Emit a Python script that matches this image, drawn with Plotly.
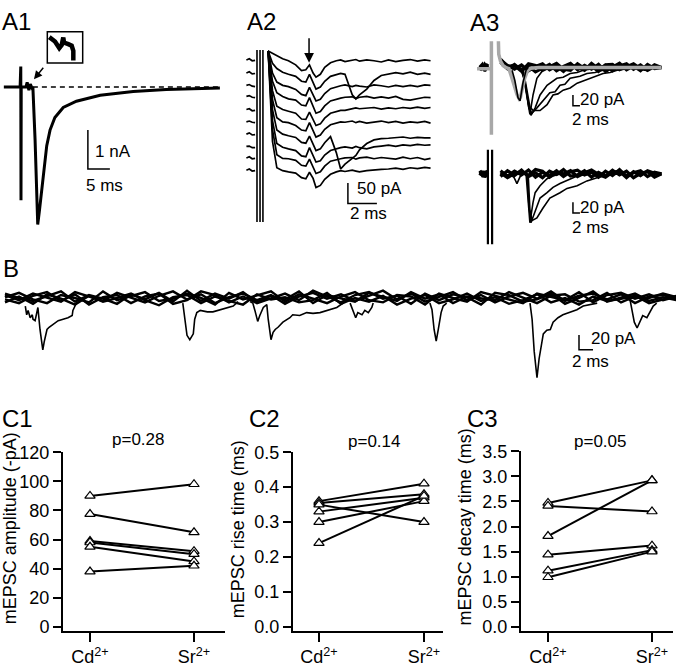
import plotly.graph_objects as go

W, H = 676, 672
FONT = "Liberation Sans, Arial, Helvetica, sans-serif"

# ---------------- Panel C data ----------------
groups = ["Cd<sup>2+</sup>", "Sr<sup>2+</sup>"]
amp_cd = [90, 77.5, 59, 58, 55, 38]
amp_sr = [98, 65, 52, 50, 45, 42]
rise_cd = [0.36, 0.355, 0.35, 0.33, 0.30, 0.24]
rise_sr = [0.41, 0.38, 0.30, 0.37, 0.36, 0.375]
decay_cd = [2.47, 2.41, 1.81, 1.44, 1.12, 0.99]
decay_sr = [2.92, 2.30, 2.92, 1.62, 1.53, 1.50]
c_titles = ["mEPSC amplitude (-pA)", "mEPSC rise time (ms)", "mEPSC decay time (ms)"]
p_values = ["p=0.28", "p=0.14", "p=0.05"]
ticks_amp = [0, 20, 40, 60, 80, 100, 120]
ticks_rise = [0.0, 0.1, 0.2, 0.3, 0.4, 0.5]
ticks_decay = [0.0, 0.5, 1.0, 1.5, 2.0, 2.5, 3.0, 3.5]

# ---------------- Panel A1 (ms, nA) ----------------
A1_t = [-3.9, -0.2, -0.05, 0.0, 0.05, 1.1, 1.4, 1.8, 2.1, 2.5, 2.7, 3.2, 3.55, 3.8, 4.15,
        5.05, 5.85, 6.6, 7.7, 9.6, 12.6, 18.0, 25.5, 33.0, 45.2]
A1_I = [0, 0, 0.53, -2.9, 0, 0, 0.12, -0.08, 0.08, -0.02, 0, -1.35, -3.0, -3.52, -3.2,
        -2.2, -1.5, -1.1, -0.78, -0.52, -0.36, -0.21, -0.11, -0.06, -0.02]
A1_base_t = [2.7, 45.2]
A1_base_I = [0, 0]
A1_inset_t = [6.43, 7.73, 8.7, 9.25, 9.61, 9.77, 10.75, 11.52, 11.89, 11.89]
A1_inset_I = [1.28, 1.17, 1.0, 1.08, 1.27, 1.14, 1.1, 1.06, 0.93, 0.68]
A1_scale_t = [15.2, 15.2, 20.2]
A1_scale_I = [-1.1, -2.1, -2.1]

# ---------------- Panel A2 (ms, pA, 10 stacked sweeps) ----------------
A2_t_pre = [-0.8, -0.6, -0.4, -0.2]
A2_t_post = [0.7, 1.0, 1.3, 1.7, 2.1, 2.6, 3.0, 3.3, 3.55, 3.8, 4.0, 4.3, 4.6, 5.0, 5.4,
             5.7, 6.0, 6.5, 6.75, 7.0, 7.5, 8.0, 8.5, 9.0, 9.5, 10.0, 10.5, 11.0, 11.5, 11.9]
A2_offsets = [0, -31, -62, -90, -121, -150, -181, -212, -238, -269]
A2_pre = [[2, 5, 0, 1], [1, 4, -1, 0], [2, 4, 0, -1], [3, 5, 1, 0], [2, 4, -1, 0],
          [1, 3, 0, -1], [2, 5, 0, 1], [3, 4, 0, 0], [1, 4, -1, 0], [2, 5, 0, 1]]
A2_sweep1 = [24, 18, 12, 5, 0, -10, -24, -22, -10, -30, -40, -33, -16, -5, 0, 2, -2, 1, 3, -1, 2, 0, -3, 2, -2, 1, 3, -1, 2, 0]
A2_sweep2 = [55, 25, 12, 3, -2, -7, -19, -21, -2, -22, -38, -33, -19, -7, -2, 0, -2, -52, -62, -52, -38, -17, -5, -1, 2, -1, 3, -2, 1, -2]
A2_sweep3 = [86, 32, 10, 2, -1, -8, -20, -23, -3, -20, -36, -32, -18, -6, -1, 1, 3, -1, 2, 0, -2, 3, 1, -2, 2, -1, 2, -1, 3, 2]
A2_sweep4 = [114, 40, 12, 3, -3, -6, -18, -20, 0, -22, -38, -34, -20, -8, -3, -1, 1, 2, -2, 1, 3, -1, 2, -1, 3, -4, -6, -3, 1, 0]
A2_sweep5 = [145, 48, 10, 2, -2, -7, -21, -22, -4, -21, -37, -33, -19, -7, -2, 0, 0, 4, 6, 4, 5, 7, 3, 6, 4, 7, 5, 8, 5, 7]
A2_sweep6 = [174, 55, 11, 1, -1, -8, -19, -21, -1, -20, -36, -31, -17, -6, -1, 1, 0, 3, -1, 2, -2, 1, 3, -1, 2, -2, 1, -1, 2, -2]
A2_sweep7 = [205, 62, 12, 2, -2, -6, -18, -20, -3, -23, -38, -34, -19, -4, -43, -83, -71, -57, -50, -36, -21, -12, -9, -8, -6, -5, -8, -6, -7, -7]
A2_sweep8 = [236, 66, 10, 1, -3, -7, -20, -22, 0, -19, -35, -32, -18, -7, -2, 0, 2, -1, 3, 0, -3, 2, 4, 6, 3, 7, 5, 8, 6, 7]
A2_sweep9 = [262, 70, 9, 0, -1, -5, -17, -19, -2, -20, -37, -33, -19, -7, -3, -1, 1, 2, -2, 1, 3, -1, 2, 0, -2, 3, -1, 2, -3, 0]
A2_sweep10 = [293, 72, 8, 1, -2, -5, -16, -19, -3, -18, -40, -35, -20, -8, -2, 1, -1, 2, 0, -2, 1, 3, 4, 5, 7, 4, 8, 6, 9, 7]
A2_sweeps = [A2_sweep1, A2_sweep2, A2_sweep3, A2_sweep4, A2_sweep5,
             A2_sweep6, A2_sweep7, A2_sweep8, A2_sweep9, A2_sweep10]
A2_artifact_t = [-0.07, 0.14, 0.34]
A2_artifact_I = [26, -393]
A2_scale_t = [6.2, 6.2, 8.2]
A2_scale_I = [-298, -348, -348]

# ---------------- Panel A3 (ms, pA) ----------------
A3_bottom_offset = -198
A3_gray_t = [-3.7, 0.2, None, 0.4, 0.4, None, 2.4, 2.5, 3.0, 3.7, 4.6, 5.4, 6.3, 7.1, 7.7,
             8.3, 8.7, 9.2, 9.9, 10.7, 11.6, 14.0, 49.0]
A3_gray_I = [-2, -2, None, 49, -125, None, 49, 25, 12, 4, 0, -2, -20, -38, -50,
             -58, -55, -40, -20, -6, -1, 0, 0]
A3_noise_t = [-2.9, -2.2, -1.5, -0.6, None, 3, 5, 7, 9, 11, 13, 15, 17, 19, 21, 23, 25,
              27, 29, 31, 33, 35, 37, 39, 41, 43, 45, 47, 49]
A3_top_noise1 = [3, -4, 6, -2, None, 14, 4, -3, 5, -6, 2, 7, -4, 3, -7, 5, 1, -5, 8, -2, 4, -6, 3, 7, -3, 5, -5, 2, 0]
A3_top_noise2 = [-5, 2, -3, 7, None, 10, -2, 6, -5, 3, -8, -1, 6, -6, 2, 8, -4, 4, -3, 6, -7, 1, 8, -4, 3, -6, 6, -2, 0]
A3_top_noise3 = [1, 6, -6, 3, None, 16, 2, 4, -7, 7, 4, -5, 2, 8, -3, -5, 7, -2, 3, -7, 5, 6, -4, 1, 7, -2, -4, 5, 0]
A3_bot_noise1 = [4, -3, 2, -5, None, 6, -4, 5, -2, 7, -6, 3, -3, 6, -5, 4, 7, -2, 3, -6, 5, -3, 8, -4, 2, 6, -5, 3, 0]
A3_bot_noise2 = [-3, 5, -6, 2, None, -5, 6, -3, 7, -5, 2, -7, 5, -1, 8, -4, -2, 6, -6, 3, -4, 7, -2, 5, -7, 1, 4, -6, 0]
A3_bot_noise3 = [6, -1, 3, 5, None, 2, -7, 1, 4, -3, 8, 5, -6, 3, 0, 6, -5, 2, 7, -1, -6, 3, 5, -7, 4, -3, 6, 1, 0]
A3_ev_a_t = [8.6, 9.7, 10.6, 11.4, 12.3, 13.4, 15.1, 17.1]
A3_ev_a_I = [0, -20, -56, -87, -51, -20, -5, 0]
A3_ev_b_t = [8.9, 10.0, 10.9, 11.7, 12.9, 14.3, 16.3, 17.7, 19.1, 20.9, 22.9, 24.9, 26.6, 31.4]
A3_ev_b_I = [0, -29, -65, -89, -75, -51, -33, -27, -20, -18, -11, -9, -5, 0]
A3_ev_c_t = [9.1, 10.3, 11.1, 12.0, 13.4, 15.1, 17.1, 18.6, 20.0, 21.4, 22.9, 25.7, 27.7, 30.0, 32.3, 37.1]
A3_ev_c_I = [0, -38, -75, -85, -75, -62, -47, -45, -33, -31, -20, -16, -11, -9, -5, 0]
A3_ev_d_t = [9.4, 10.6, 11.4, 12.3, 13.4, 14.3, 16.3, 18.0, 19.4, 20.9, 22.9, 24.9, 26.6, 28.6,
             30.6, 32.3, 34.3, 36.3, 41.4]
A3_ev_d_I = [0, -47, -73, -80, -80, -80, -69, -51, -49, -42, -38, -29, -25, -20, -16, -11, -9, -5, 0]
A3_ev_e_t = [6.3, 7.1, 8.0, 8.6, 9.4, 10.3, 10.9]
A3_ev_e_I = [-5, -24, -56, -62, -29, -5, 0]
A3_bev1_t = [10.3, 10.9, 11.4, 12.3, 12.9, 14.3, 16.3, 18.0, 20.0]
A3_bev1_I = [0, -49, -91, -53, -35, -22, -9, -4, 0]
A3_bev2_t = [10.6, 11.1, 11.7, 12.9, 14.3, 16.3, 18.0, 20.0, 22.9, 24.9, 28.6]
A3_bev2_I = [0, -58, -91, -71, -45, -35, -25, -18, -9, -4, 0]
A3_bev3_t = [10.9, 11.4, 12.0, 13.4, 15.1, 17.1, 20.0, 22.0, 24.9, 27.7, 30.6, 33.4, 37.1]
A3_bev3_I = [0, -67, -87, -82, -64, -45, -35, -27, -22, -13, -7, -2, 0]
A3_bev4_t = [5.7, 6.9, 7.7, 8.6, 9.4]
A3_bev4_I = [0, -7, -18, -5, 0]
A3_bot_artifact_t = [-0.6, 0.6]
A3_bot_artifact_I = [45, -131]
A3_scale_t = [23.7, 23.7, 25.7]
A3_scale_top_I = [-51, -71, -71]
A3_scale_bot_I = [-251, -271, -271]

# ---------------- Panel B (ms, pA) ----------------
B_noise_t = list(range(0, 97, 2))
B_noise1 = [4, -3, 6, 1, -5, 8, 2, -4, 7, 0, -6, 3, 9, -2, 5, -7, 1, 6, -3, 4, -8, 2, 7, -1, 5,
            -4, 3, 10, -2, 6, -5, 1, 8, -3, 4, -6, 2, 7, -1, 9, -4, 3, 6, -2, 5, -7, 2, 4, -1]
B_noise2 = [-6, 2, -8, 5, -1, -9, 3, -5, 0, 6, -3, -10, 1, 4, -7, 2, -4, -9, 5, -2, 1, -6, -3, 7, -8,
            0, -5, 3, -9, -1, 4, -7, -2, 6, -4, 1, -8, -3, 5, -6, 0, -9, 2, -4, -1, 3, -7, -2, 3]
B_noise3 = [1, 7, -2, -7, 4, 0, -6, 9, -3, 2, 8, -4, -1, 6, 0, -9, 7, -2, 3, 9, -5, 5, -1, -7, 2,
            8, -3, -6, 4, 2, -9, 6, 0, -5, 8, 3, -2, -7, 6, 1, -3, 8, -6, 4, 7, -1, 5, -3, 2]
B_noise4 = [-2, -7, 3, 8, -4, 5, -9, 1, 4, -7, 2, 6, -8, -3, 9, 4, -6, 2, -7, 0, 6, -3, 10, 2, -6,
            4, 8, -1, 3, -8, 6, -3, 5, 1, -9, 7, 4, -5, -2, 6, -8, 0, 9, -5, 1, 6, -4, 1, -3]
B_noise5 = [6, 0, -4, 3, 9, -5, 4, -1, -8, 5, -2, 7, -5, 10, -4, 6, -1, 8, -6, 3, -2, 9, -7, 4, 0,
            -5, 7, 1, -4, 8, -1, 5, -7, 2, -1, -3, 8, 0, -7, 3, 5, -5, -3, 7, -6, 2, 0, 6, 1]
B_ev1_t = [2.9, 3.1, 3.3, 3.6, 3.9, 4.0, 4.3, 4.6, 4.7, 5.0, 5.4, 5.6, 6.0, 6.3, 6.9, 7.6, 8.3, 9.0,
           9.6, 9.7, 10.0, 10.3]
B_ev1_I = [-11, -23, -17, -27, -23, -29, -31, -20, -13, -43, -71, -60, -43, -40, -36, -31, -29, -27,
           -24, -17, -11, -4]
B_ev2_t = [25.4, 25.7, 26.0, 26.4, 26.9, 27.1, 27.4, 27.9, 28.9, 29.7, 30.7, 31.7, 32.6, 33.3]
B_ev2_I = [-7, -29, -51, -57, -49, -29, -20, -17, -19, -19, -16, -13, -11, -5]
B_ev3_t = [35.0, 35.4, 35.7, 36.1, 36.4, 36.9, 37.4, 37.6, 38.0, 38.3, 38.6, 39.0, 39.7, 40.7, 41.1,
           42.1, 43.1, 44.0, 45.0, 46.0, 46.4, 47.4, 48.3]
B_ev3_I = [-5, -7, -17, -32, -24, -13, -9, -29, -57, -47, -43, -40, -33, -27, -23, -24, -20, -21,
           -20, -17, -16, -13, -7]
B_ev4_t = [49.3, 49.7, 50.1, 50.4, 51.0, 51.4, 51.9, 52.4, 52.6]
B_ev4_I = [-7, -16, -27, -20, -23, -17, -20, -13, -7]
B_ev5_t = [60.7, 61.0, 61.3, 61.6, 61.9, 62.3, 62.6, 63.1]
B_ev5_I = [-7, -16, -43, -59, -43, -20, -11, -7]
B_ev6_t = [75.0, 75.3, 75.6, 76.0, 76.3, 76.9, 77.4, 77.9, 78.3, 79.0, 79.7, 80.7, 81.7, 82.6, 83.6, 84.6]
B_ev6_I = [-7, -29, -73, -109, -83, -49, -44, -43, -33, -27, -23, -20, -16, -11, -9, -7]
B_ev7_t = [89.3, 89.6, 89.9, 90.3, 90.7, 91.1, 91.7, 92.1, 92.6, 93.1]
B_ev7_I = [-3, -16, -33, -41, -33, -24, -27, -20, -11, -7]
B_scale_t = [82.0, 82.0, 84.0]
B_scale_I = [-50.7, -70.7, -70.7]


# ---------------- helpers ----------------
def ax_names(i):
    return ("x", "y") if i == 1 else (f"x{i}", f"y{i}")


def line(x, y, ax, color="black", width=1.5, dash=None):
    xa, ya = ax_names(ax)
    return go.Scatter(x=x, y=y, xaxis=xa, yaxis=ya, mode="lines",
                      line=dict(color=color, width=width, dash=dash),
                      hoverinfo="skip", showlegend=False, connectgaps=False)


def shift(vals, off):
    return [None if v is None else v + off for v in vals]


fig = go.Figure()

# A1 (axis 1)
fig.add_trace(line(A1_base_t, A1_base_I, 1, width=1.5, dash="5px,4px"))
fig.add_trace(line(A1_t, A1_I, 1, width=3))
fig.add_trace(line(A1_inset_t, A1_inset_I, 1, width=4.5))
fig.add_trace(line(A1_scale_t, A1_scale_I, 1, width=1.5))

# A2 (axis 2)
for tx in A2_artifact_t:
    fig.add_trace(line([tx, tx], A2_artifact_I, 2, width=1.6))
for k in range(10):
    xs = A2_t_pre + [None] + A2_t_post
    ys = shift(A2_pre[k] + [None] + A2_sweeps[k], A2_offsets[k])
    fig.add_trace(line(xs, ys, 2, width=1.7))
fig.add_trace(line(A2_scale_t, A2_scale_I, 2, width=1.5))

# A3 (axis 3)
for row in (A3_top_noise1, A3_top_noise2, A3_top_noise3):
    fig.add_trace(line(A3_noise_t, row, 3, width=3.2))
for tt, ii in ((A3_ev_a_t, A3_ev_a_I), (A3_ev_b_t, A3_ev_b_I),
               (A3_ev_c_t, A3_ev_c_I), (A3_ev_d_t, A3_ev_d_I)):
    fig.add_trace(line(tt, ii, 3, width=1.6))
fig.add_trace(line(A3_gray_t, A3_gray_I, 3, color="#a8a8a8", width=3.5))
fig.add_trace(line(A3_ev_e_t, A3_ev_e_I, 3, width=1.6))
for tx in A3_bot_artifact_t:
    fig.add_trace(line([tx, tx], shift(A3_bot_artifact_I, A3_bottom_offset), 3, width=2.2))
for row in (A3_bot_noise1, A3_bot_noise2, A3_bot_noise3):
    fig.add_trace(line(A3_noise_t, shift(row, A3_bottom_offset), 3, width=3.2))
for tt, ii in ((A3_bev1_t, A3_bev1_I), (A3_bev2_t, A3_bev2_I),
               (A3_bev3_t, A3_bev3_I), (A3_bev4_t, A3_bev4_I)):
    fig.add_trace(line(tt, shift(ii, A3_bottom_offset), 3, width=1.6))
fig.add_trace(line(A3_scale_t, A3_scale_top_I, 3, width=1.5))
fig.add_trace(line(A3_scale_t, A3_scale_bot_I, 3, width=1.5))

# B (axis 4)
for row in (B_noise1, B_noise2, B_noise3, B_noise4, B_noise5):
    fig.add_trace(line(B_noise_t, row, 4, width=2.4))
for tt, ii in ((B_ev1_t, B_ev1_I), (B_ev2_t, B_ev2_I), (B_ev3_t, B_ev3_I), (B_ev4_t, B_ev4_I),
               (B_ev5_t, B_ev5_I), (B_ev6_t, B_ev6_I), (B_ev7_t, B_ev7_I)):
    fig.add_trace(line(tt, ii, 4, width=1.6))
fig.add_trace(line(B_scale_t, B_scale_I, 4, width=1.5))

# C panels (axes 5, 6, 7)
for ax, cd, sr in ((5, amp_cd, amp_sr), (6, rise_cd, rise_sr), (7, decay_cd, decay_sr)):
    xa, ya = ax_names(ax)
    for a, b in zip(cd, sr):
        fig.add_trace(go.Scatter(
            x=[0, 1], y=[a, b], xaxis=xa, yaxis=ya, mode="lines+markers",
            line=dict(color="black", width=2),
            marker=dict(symbol="triangle-up", size=9, color="white",
                        line=dict(color="black", width=1.2)),
            hoverinfo="skip", showlegend=False, cliponaxis=False))

# ---------------- layout ----------------
def dom_x(l, r):
    return [l / W, r / W]


def dom_y(t, b):
    return [1 - b / H, 1 - t / H]


layout = dict(width=W, height=H, margin=dict(l=0, r=0, t=0, b=0), autosize=False,
              paper_bgcolor="white", plot_bgcolor="rgba(0,0,0,0)", showlegend=False,
              font=dict(family=FONT, color="black"))

trace_panels = [
    (1, (0, 236, 20, 240), 21, 4.4, 79, 40.0),
    (2, (236, 448, 20, 240), 258, 14.5, 52, 0.42),
    (3, (452, 676, 20, 248), 490, 3.5, 59, 0.55),
    (4, (0, 676, 252, 392), 5, 7.0, 295, 0.75),
]
for i, (l, r, t, b), x0, sx, y0, sy in trace_panels:
    xk = "xaxis" if i == 1 else f"xaxis{i}"
    yk = "yaxis" if i == 1 else f"yaxis{i}"
    xa, ya = ax_names(i)
    layout[xk] = dict(domain=dom_x(l, r), range=[(l - x0) / sx, (r - x0) / sx], anchor=ya,
                      visible=False, showgrid=False, zeroline=False, fixedrange=True)
    layout[yk] = dict(domain=dom_y(t, b), range=[(y0 - b) / sy, (y0 - t) / sy], anchor=xa,
                      visible=False, showgrid=False, zeroline=False, fixedrange=True)

c_panels = [
    (5, (63, 225), (453, 636), [-0.2596, 1.298], [-2.7, 120], ticks_amp, ""),
    (6, (293, 443), (453, 636), [-0.2476, 1.181], [-0.0112, 0.5], ticks_rise, ".1f"),
    (7, (521, 673), (452, 636), [-0.2596, 1.2019], [-0.0778, 3.5], ticks_decay, ".1f"),
]
for i, (l, r), (t, b), xr, yr, yt, fmt in c_panels:
    xa, ya = ax_names(i)
    layout[f"xaxis{i}"] = dict(domain=dom_x(l, r), range=xr, anchor=ya, showline=True,
                               linecolor="black", linewidth=2, ticks="outside", ticklen=9,
                               tickwidth=2, tickcolor="black", tickvals=[0, 1], ticktext=groups,
                               tickfont=dict(size=18, family=FONT, color="black"),
                               showgrid=False, zeroline=False, fixedrange=True)
    layout[f"yaxis{i}"] = dict(domain=dom_y(t, b), range=yr, anchor=xa, showline=True,
                               linecolor="black", linewidth=2, ticks="outside", ticklen=8,
                               tickwidth=2, tickcolor="black", tickvals=yt, tickformat=fmt,
                               tickfont=dict(size=18, family=FONT, color="black"),
                               showgrid=False, zeroline=False, fixedrange=True)


def label(text, x, y, size=17, angle=0):
    return dict(text=text, x=x / W, y=1 - y / H, xref="paper", yref="paper", showarrow=False,
                font=dict(size=size, family=FONT, color="black"), xanchor="center",
                yanchor="middle", textangle=angle)


annotations = [
    label("A1", 16, 12, 24), label("A2", 261, 12, 24), label("A3", 485, 13, 24),
    label("B", 11, 265, 24), label("C1", 17, 418, 24), label("C2", 264, 418, 24),
    label("C3", 482, 418, 24),
    label(p_values[0], 138, 440), label(p_values[1], 374, 442), label(p_values[2], 600, 442),
    label("1 nA", 113, 145), label("5 ms", 104, 180),
    label("50 pA", 379, 183), label("2 ms", 369, 208),
    label("20 pA", 602, 92), label("2 ms", 590, 112),
    label("20 pA", 602, 202), label("2 ms", 590, 223),
    label("20 pA", 613, 337), label("2 ms", 590, 360),
    label(c_titles[0], 10, 531, 18, -90), label(c_titles[1], 238, 532, 18, -90),
    label(c_titles[2], 465, 530, 18, -90),
    dict(x=2.95, y=0.2, xref="x", yref="y", ax=10.5, ay=-13, text="", showarrow=True,
         arrowhead=2, arrowsize=1.1, arrowwidth=1.5, arrowcolor="black"),
    dict(x=3.52, y=-5, xref="x2", yref="y2", ax=0, ay=-26, text="", showarrow=True,
         arrowhead=2, arrowsize=1.3, arrowwidth=1.5, arrowcolor="black"),
]
layout["annotations"] = annotations
layout["shapes"] = [dict(type="rect", xref="x", yref="y", x0=5.98, x1=14.02, y0=0.62, y1=1.42,
                         line=dict(color="black", width=1.5), fillcolor="rgba(0,0,0,0)",
                         layer="above")]

fig.update_layout(**layout)
fig.write_html("out.html", config={"displayModeBar": False},
               post_script="document.body.style.margin='0px';document.body.style.padding='0px';"
                           "document.body.style.overflow='hidden';")
